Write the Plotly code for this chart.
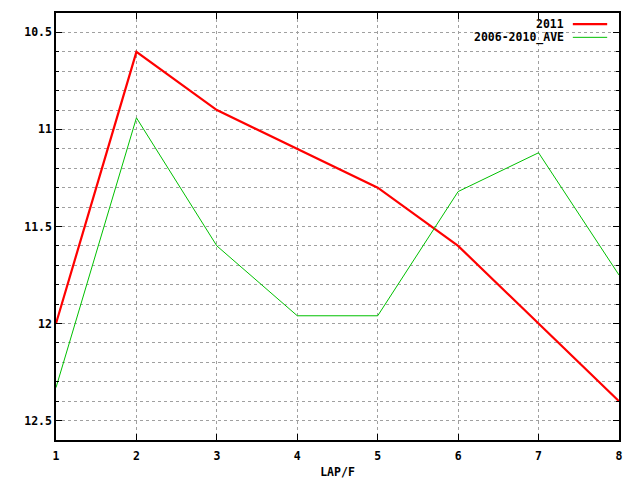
import plotly.graph_objects as go

laps = [1, 2, 3, 4, 5, 6, 7, 8]
y2011 = [12.0, 10.6, 10.9, 11.1, 11.3, 11.6, 12.0, 12.4]
yave = [12.33, 10.94, 11.6, 11.96, 11.96, 11.32, 11.12, 11.75]
names = ["2011", "2006-2010_AVE"]
colors = ["#ff0000", "#00c000"]
widths = [2.2, 1]
ytickvals = [10.5, 11, 11.5, 12, 12.5]
yticktext = ["10.5", "11", "11.5", "12", "12.5"]

FONT = "DejaVu Sans Mono"
tf = dict(family=FONT, size=11.5, color="black", weight="bold")

fig = go.Figure()
for name, ys, c, w in zip(names, [y2011, yave], colors, widths):
    fig.add_trace(go.Scatter(x=laps, y=ys, mode="lines", name=name,
                             line=dict(color=c, width=w), showlegend=False))

# legend (gnuplot style: text then sample)
for i, (name, c, w) in enumerate(zip(names, colors, widths)):
    yp = 0.974 - i * 0.031
    fig.add_annotation(x=0.904, y=yp, xref="paper", yref="paper", text=name,
                       showarrow=False, xanchor="right", yanchor="middle",
                       font=tf, borderpad=0)
    fig.add_shape(type="line", xref="paper", yref="paper", x0=0.918, x1=0.979,
                  y0=yp, y1=yp, line=dict(color=c, width=w))

grid = dict(showgrid=True, gridcolor="#a0a0a0", griddash="dot", gridwidth=1)

fig.update_layout(
    width=632, height=472,
    margin=dict(l=48, r=21, t=5, b=40),
    paper_bgcolor="white", plot_bgcolor="white",
    font=tf,
    xaxis=dict(range=[1, 8], tickvals=laps, ticks="inside", ticklen=6,
               tickcolor="black", showline=True, linecolor="black", linewidth=1.5,
               mirror="ticks", zeroline=False, ticklabelstandoff=4,
               automargin=False,
               title=dict(text="LAP/F", standoff=6, font=tf),
               tickfont=tf, **grid),
    yaxis=dict(range=[12.6, 10.4], tickvals=ytickvals, ticktext=yticktext,
               ticks="inside", ticklen=6, tickcolor="black", showline=True,
               linecolor="black", linewidth=1.5, mirror="ticks", zeroline=False,
               tickfont=tf, automargin=False,
               minor=dict(dtick=0.1, tick0=10.5, ticks="inside", ticklen=3,
                          tickcolor="black", showgrid=True, gridcolor="#a0a0a0",
                          griddash="dot"),
               **grid),
)

fig.write_html("out.html")
